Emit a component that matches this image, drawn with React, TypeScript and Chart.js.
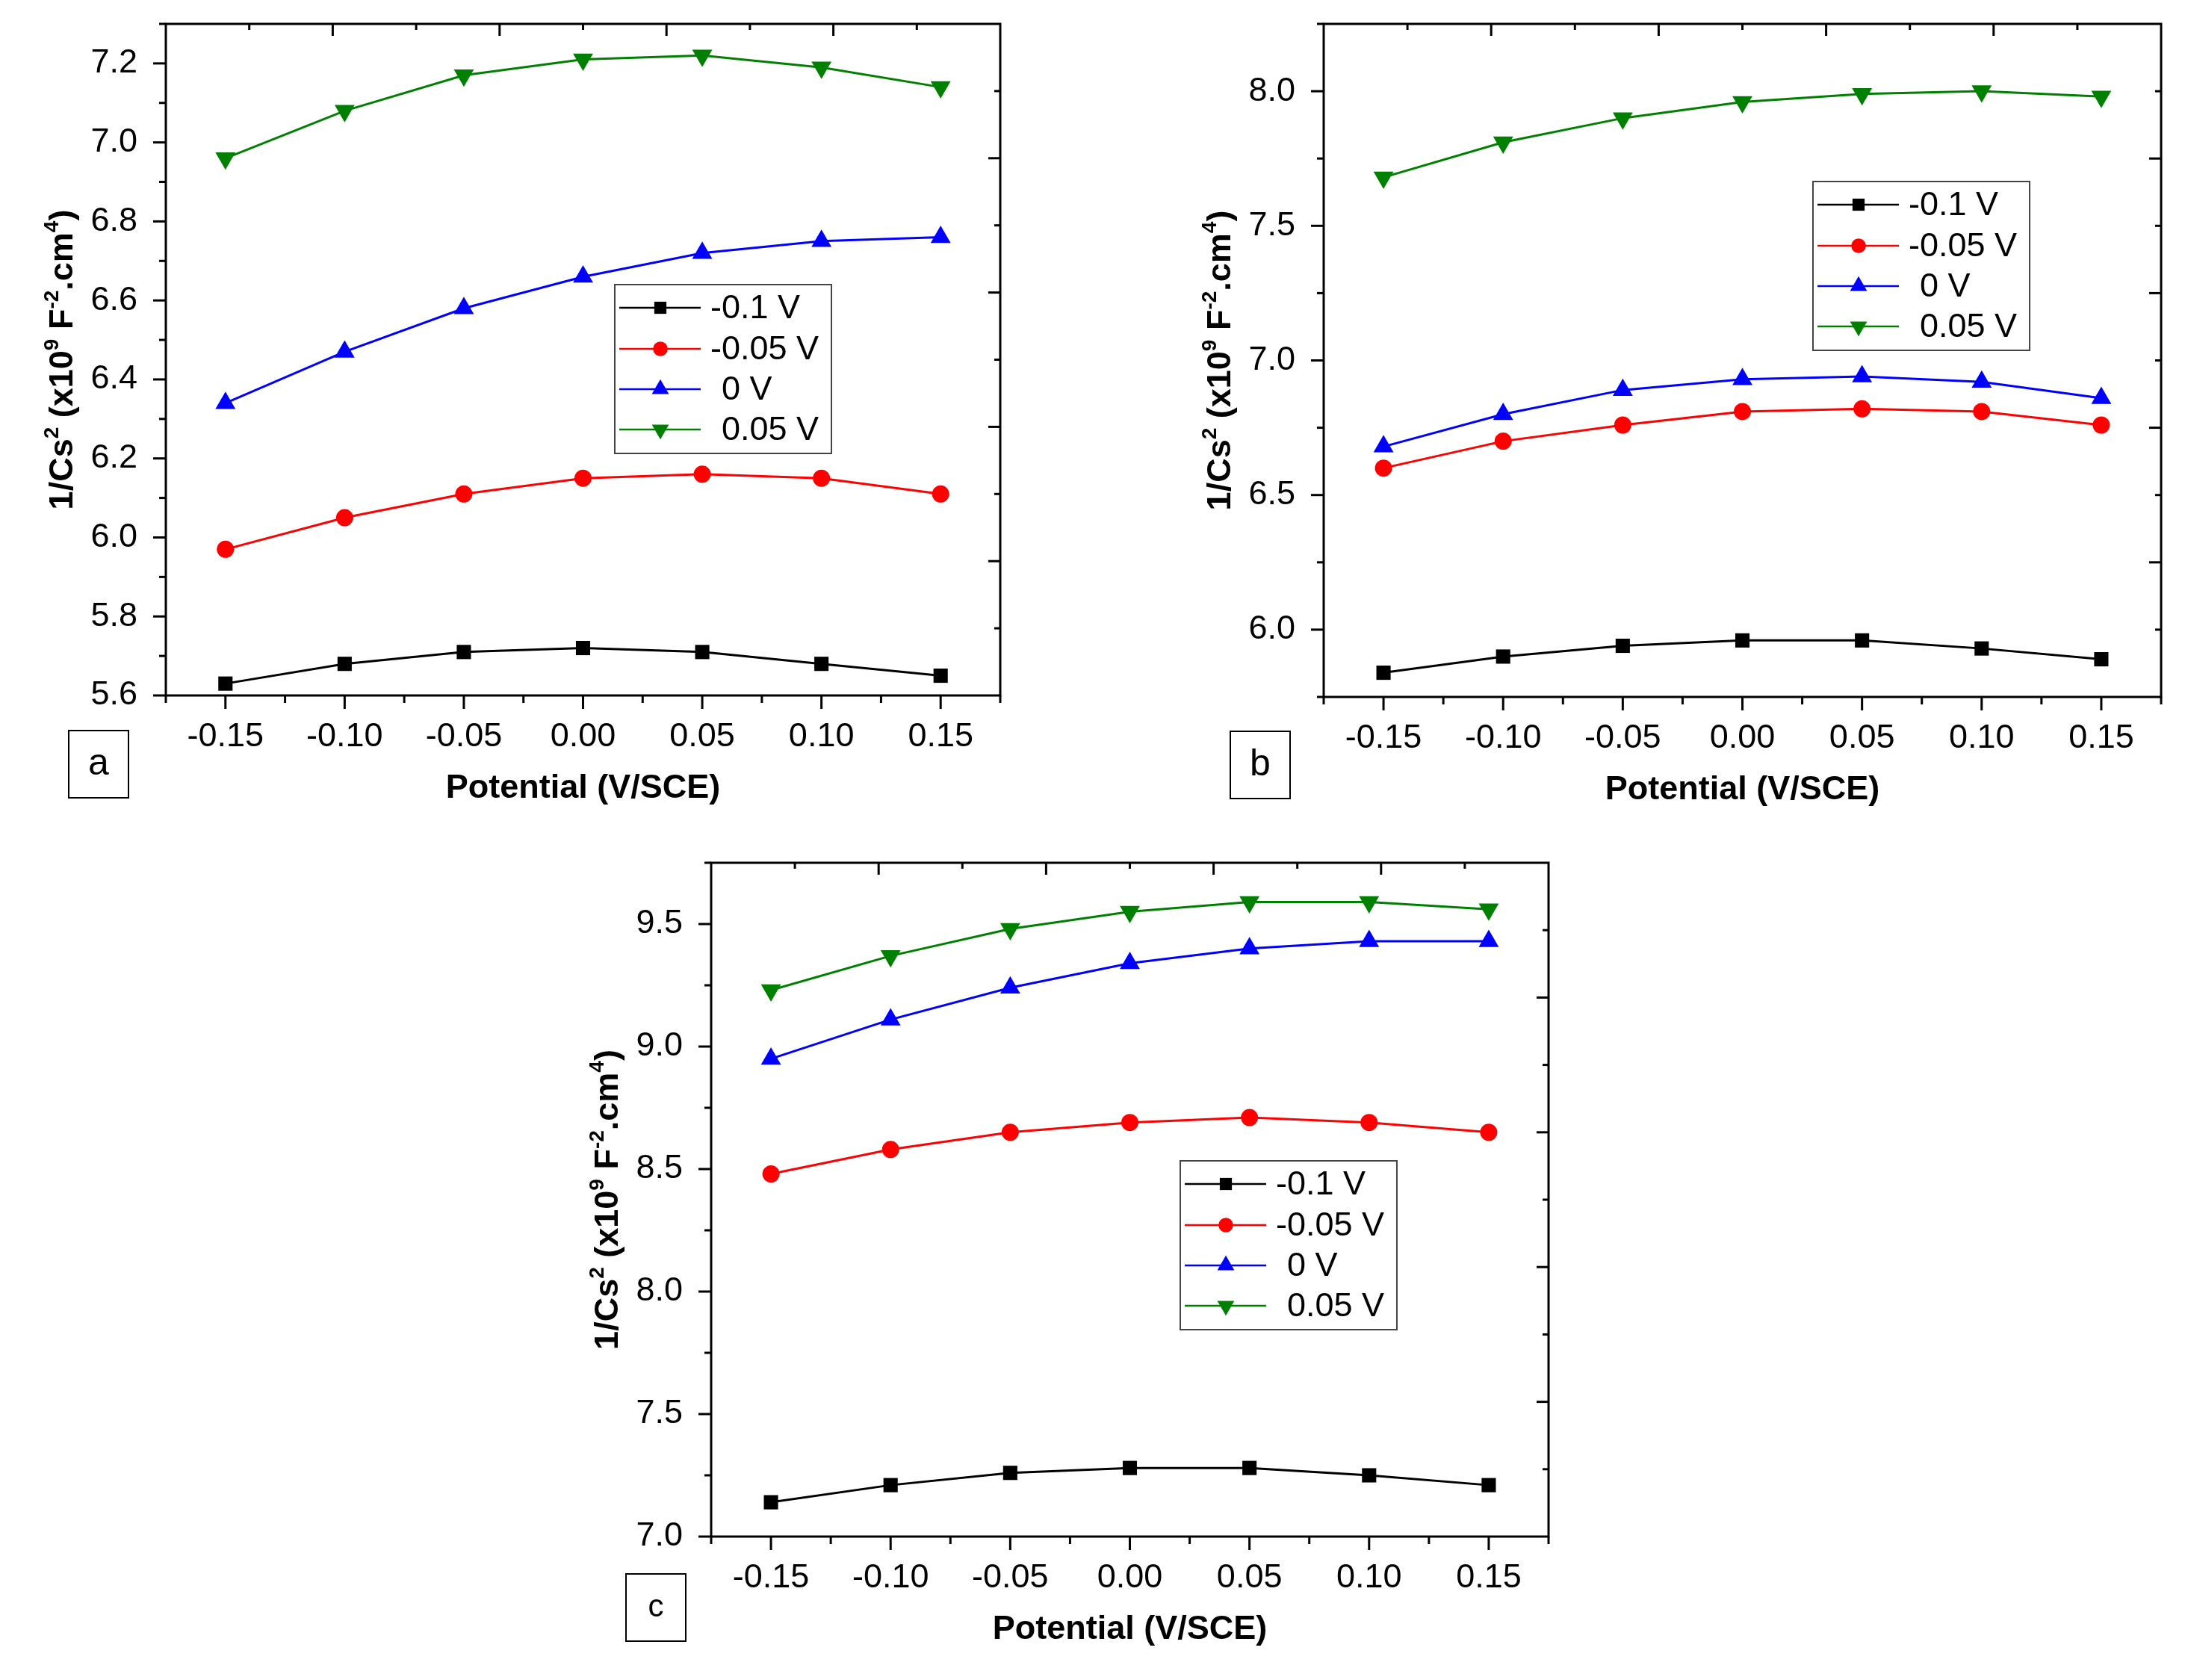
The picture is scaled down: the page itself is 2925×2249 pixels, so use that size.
import React, { useEffect, useRef } from 'react';
import { Chart, registerables } from 'chart.js';

Chart.register(...registerables);

const FONT = '"Liberation Sans", Arial, Helvetica, sans-serif';

// ---------- data ----------
const potentials = [-0.15, -0.1, -0.05, 0.0, 0.05, 0.1, 0.15];
const seriesLabels = ['-0.1 V', '-0.05 V', '0 V', '0.05 V'];

// panel a
const aSeriesM010 = [5.63, 5.68, 5.71, 5.72, 5.71, 5.68, 5.65];
const aSeriesM005 = [5.97, 6.05, 6.11, 6.15, 6.16, 6.15, 6.11];
const aSeries000 = [6.34, 6.47, 6.58, 6.66, 6.72, 6.75, 6.76];
const aSeries005 = [6.96, 7.08, 7.17, 7.21, 7.22, 7.19, 7.14];

// panel b
const bSeriesM010 = [5.84, 5.9, 5.94, 5.96, 5.96, 5.93, 5.89];
const bSeriesM005 = [6.6, 6.7, 6.76, 6.81, 6.82, 6.81, 6.76];
const bSeries000 = [6.68, 6.8, 6.89, 6.93, 6.94, 6.92, 6.86];
const bSeries005 = [7.68, 7.81, 7.9, 7.96, 7.99, 8.0, 7.98];

// panel c
const cSeriesM010 = [7.14, 7.21, 7.26, 7.28, 7.28, 7.25, 7.21];
const cSeriesM005 = [8.48, 8.58, 8.65, 8.69, 8.71, 8.69, 8.65];
const cSeries000 = [8.95, 9.11, 9.24, 9.34, 9.4, 9.43, 9.43];
const cSeries005 = [9.23, 9.37, 9.48, 9.55, 9.59, 9.59, 9.56];

// ticks
const xTickValues = [-0.15, -0.1, -0.05, 0.0, 0.05, 0.1, 0.15];
const xRange = [-0.175, 0.175];
const yTicksA = [5.6, 5.8, 6.0, 6.2, 6.4, 6.6, 6.8, 7.0, 7.2];
const yTicksB = [6.0, 6.5, 7.0, 7.5, 8.0];
const yTicksC = [7.0, 7.5, 8.0, 8.5, 9.0, 9.5];
const yRangeA = [5.6, 7.3];
const yRangeB = [5.75, 8.25];
const yRangeC = [7.0, 9.75];

const xTitle = 'Potential (V/SCE)';
const yTitleParts: [string, boolean][] = [
  ['1/Cs', false],
  ['2', true],
  [' (x10', false],
  ['9', true],
  [' F', false],
  ['-2', true],
  ['.cm', false],
  ['4', true],
  [')', false],
];

// ---------- styles ----------
const seriesColors = ['#000000', '#ff0000', '#0000ff', '#008000'];
const seriesPointStyles = ['rect', 'circle', 'triangle', 'triangle'];
const seriesPointRotation = [0, 0, 0, 180];
const seriesPointRadius = [13.5, 11.5, 15.5, 15.5];

const X_AXIS_H = 150;

type PanelCfg = {
  letter: string;
  letterFont: number;
  series: number[][];
  yTicks: number[];
  yRange: number[];
  canvas: { left: number; top: number; w: number; h: number };
  plot: { left: number; top: number; right: number; bottom: number };
  legend: { dx: number; dy: number };
  letterBox: { dx: number; dy: number };
};

const panels: PanelCfg[] = [
  {
    letter: 'a',
    letterFont: 50,
    series: [aSeriesM010, aSeriesM005, aSeries000, aSeries005],
    yTicks: yTicksA,
    yRange: yRangeA,
    canvas: { left: 0, top: 0, w: 1460, h: 1100 },
    plot: { left: 222, top: 32, right: 1339, bottom: 931 },
    legend: { dx: 601, dy: 349 },
    letterBox: { dx: -130, dy: 47 },
  },
  {
    letter: 'b',
    letterFont: 50,
    series: [bSeriesM010, bSeriesM005, bSeries000, bSeries005],
    yTicks: yTicksB,
    yRange: yRangeB,
    canvas: { left: 1460, top: 0, w: 1465, h: 1100 },
    plot: { left: 312, top: 32, right: 1433, bottom: 933 },
    legend: { dx: 655, dy: 211 },
    letterBox: { dx: -125, dy: 46 },
  },
  {
    letter: 'c',
    letterFont: 42,
    series: [cSeriesM010, cSeriesM005, cSeries000, cSeries005],
    yTicks: yTicksC,
    yRange: yRangeC,
    canvas: { left: 700, top: 1100, w: 1600, h: 1149 },
    plot: { left: 252, top: 55, right: 1373, bottom: 957 },
    legend: { dx: 628, dy: 399 },
    letterBox: { dx: -114, dy: 50 },
  },
];

function drawMarker(ctx: CanvasRenderingContext2D, style: string, rotationDeg: number, r: number, x: number, y: number) {
  ctx.save();
  ctx.translate(x, y);
  ctx.rotate((rotationDeg * Math.PI) / 180);
  ctx.beginPath();
  if (style === 'rect') {
    const s = Math.SQRT1_2 * r;
    ctx.rect(-s, -s, 2 * s, 2 * s);
  } else if (style === 'circle') {
    ctx.arc(0, 0, r, 0, Math.PI * 2);
  } else {
    for (let i = 0; i < 3; i++) {
      const a = (i * 2 * Math.PI) / 3;
      const px = Math.sin(a) * r;
      const py = -Math.cos(a) * r;
      if (i === 0) ctx.moveTo(px, py);
      else ctx.lineTo(px, py);
    }
    ctx.closePath();
  }
  ctx.fill();
  ctx.restore();
}

function minorsOf(majors: number[], min: number, max: number) {
  const step = majors[1] - majors[0];
  const out: number[] = [];
  out.push(majors[0] - step / 2);
  for (let i = 0; i < majors.length - 1; i++) out.push((majors[i] + majors[i + 1]) / 2);
  out.push(majors[majors.length - 1] + step / 2);
  return out.filter((v) => v >= min - 1e-9 && v <= max + 1e-9);
}

function makeDecorPlugin(cfg: PanelCfg) {
  return {
    id: 'decor' + cfg.letter,
    afterDatasetsDraw(chart: any) {
      const ctx: CanvasRenderingContext2D = chart.ctx;
      const ca = chart.chartArea;
      // legend
      const lx = ca.left + cfg.legend.dx;
      const ly = ca.top + cfg.legend.dy;
      const bw = 290;
      const bh = 226;
      ctx.save();
      ctx.fillStyle = '#ffffff';
      ctx.fillRect(lx, ly, bw, bh);
      ctx.strokeStyle = '#444444';
      ctx.lineWidth = 2;
      ctx.strokeRect(lx, ly, bw, bh);
      ctx.font = `45px ${FONT}`;
      const dashW = ctx.measureText('-').width;
      const rowY = [31, 86, 140, 194];
      seriesLabels.forEach((label, i) => {
        const y = ly + rowY[i];
        ctx.strokeStyle = seriesColors[i];
        ctx.lineWidth = 2.5;
        ctx.beginPath();
        ctx.moveTo(lx + 6, y);
        ctx.lineTo(lx + 115, y);
        ctx.stroke();
        ctx.fillStyle = seriesColors[i];
        drawMarker(ctx, seriesPointStyles[i], seriesPointRotation[i], seriesPointRadius[i] * 0.85, lx + 61, y);
        ctx.fillStyle = '#000000';
        ctx.textAlign = 'left';
        ctx.textBaseline = 'middle';
        const off = label.startsWith('-') ? 0 : dashW;
        ctx.fillText(label, lx + 128 + off, y + 2);
      });
      ctx.restore();
    },
    afterDraw(chart: any) {
      const ctx: CanvasRenderingContext2D = chart.ctx;
      const ca = chart.chartArea;
      const xs = chart.scales.x;
      const ys = chart.scales.y;
      ctx.save();
      ctx.strokeStyle = '#000000';
      ctx.lineWidth = 3;
      ctx.lineCap = 'butt';
      ctx.strokeRect(ca.left, ca.top, ca.right - ca.left, ca.bottom - ca.top);
      const line = (x1: number, y1: number, x2: number, y2: number) => {
        ctx.beginPath();
        ctx.moveTo(x1, y1);
        ctx.lineTo(x2, y2);
        ctx.stroke();
      };
      // bottom ticks (outward)
      xTickValues.forEach((v) => {
        const px = xs.getPixelForValue(v);
        line(px, ca.bottom, px, ca.bottom + 18);
      });
      minorsOf(xTickValues, xs.min, xs.max).forEach((v) => {
        const px = xs.getPixelForValue(v);
        line(px, ca.bottom, px, ca.bottom + 10);
      });
      // left ticks (outward)
      cfg.yTicks.forEach((v) => {
        const py = ys.getPixelForValue(v);
        line(ca.left, py, ca.left - 17, py);
      });
      minorsOf(cfg.yTicks, ys.min, ys.max).forEach((v) => {
        const py = ys.getPixelForValue(v);
        line(ca.left, py, ca.left - 9, py);
      });
      // top and right: ten equal divisions, ticks inward
      for (let i = 1; i < 10; i++) {
        const len = i % 2 === 0 ? 16 : 8;
        const vx = xs.min + ((xs.max - xs.min) * i) / 10;
        const px = xs.getPixelForValue(vx);
        line(px, ca.top, px, ca.top + len);
        const vy = ys.min + ((ys.max - ys.min) * i) / 10;
        const py = ys.getPixelForValue(vy);
        line(ca.right, py, ca.right - len, py);
      }
      // x title
      ctx.fillStyle = '#000000';
      ctx.font = `bold 45px ${FONT}`;
      ctx.textAlign = 'center';
      ctx.textBaseline = 'middle';
      ctx.fillText(xTitle, (ca.left + ca.right) / 2, ca.bottom + 125);
      // y title with superscripts
      ctx.save();
      ctx.translate(ca.left - 141, (ca.top + ca.bottom) / 2);
      ctx.rotate(-Math.PI / 2);
      const big = `bold 45px ${FONT}`;
      const small = `bold 28px ${FONT}`;
      let total = 0;
      yTitleParts.forEach(([t, sup]) => {
        ctx.font = sup ? small : big;
        total += ctx.measureText(t).width;
      });
      let x = -total / 2;
      ctx.textAlign = 'left';
      ctx.textBaseline = 'alphabetic';
      const base = 45 * 0.36;
      yTitleParts.forEach(([t, sup]) => {
        ctx.font = sup ? small : big;
        ctx.fillText(t, x, sup ? base - 19 : base);
        x += ctx.measureText(t).width;
      });
      ctx.restore();
      // panel letter box
      const bx = ca.left + cfg.letterBox.dx;
      const by = ca.bottom + cfg.letterBox.dy;
      ctx.strokeStyle = '#000000';
      ctx.lineWidth = 2;
      ctx.strokeRect(bx, by, 80, 90);
      ctx.font = `${cfg.letterFont}px ${FONT}`;
      ctx.textAlign = 'center';
      ctx.textBaseline = 'middle';
      ctx.fillText(cfg.letter, bx + 40, by + 45);
      ctx.restore();
    },
  };
}

function Panel({ cfg }: { cfg: PanelCfg }) {
  const ref = useRef<HTMLCanvasElement>(null);
  useEffect(() => {
    const canvas = ref.current;
    if (!canvas) return;
    const { w, h } = cfg.canvas;
    const p = cfg.plot;
    const yDecimals = 1;
    const chart = new Chart(canvas, {
      type: 'line',
      data: {
        datasets: cfg.series.map((arr, i) => ({
          label: seriesLabels[i],
          data: potentials.map((x, j) => ({ x, y: arr[j] })),
          borderColor: seriesColors[i],
          backgroundColor: seriesColors[i],
          borderWidth: 3,
          pointStyle: seriesPointStyles[i] as any,
          pointRotation: seriesPointRotation[i],
          pointRadius: seriesPointRadius[i],
          pointBorderWidth: 0,
          tension: 0,
          fill: false,
        })),
      },
      options: {
        animation: false,
        responsive: false,
        devicePixelRatio: 1,
        layout: {
          padding: { left: 0, top: p.top, right: w - p.right, bottom: h - p.bottom - X_AXIS_H },
        },
        plugins: { legend: { display: false }, tooltip: { enabled: false } },
        scales: {
          x: {
            type: 'linear',
            min: xRange[0],
            max: xRange[1],
            grid: { display: false },
            border: { display: false },
            afterBuildTicks: (s: any) => {
              s.ticks = xTickValues.map((value) => ({ value }));
            },
            afterFit: (s: any) => {
              s.height = X_AXIS_H;
              s.paddingLeft = 0;
              s.paddingRight = 0;
            },
            ticks: {
              autoSkip: false,
              maxRotation: 0,
              minRotation: 0,
              padding: 21,
              color: '#000000',
              font: { family: FONT, size: 45 },
              callback: (v: any) => Number(v).toFixed(2),
            },
          },
          y: {
            type: 'linear',
            min: cfg.yRange[0],
            max: cfg.yRange[1],
            grid: { display: false },
            border: { display: false },
            afterBuildTicks: (s: any) => {
              s.ticks = cfg.yTicks.map((value) => ({ value }));
            },
            afterFit: (s: any) => {
              s.width = p.left;
              s.paddingTop = 0;
              s.paddingBottom = 0;
            },
            ticks: {
              autoSkip: false,
              padding: 30,
              color: '#000000',
              font: { family: FONT, size: 45 },
              callback: (v: any) => Number(v).toFixed(yDecimals),
            },
          },
        },
      } as any,
      plugins: [makeDecorPlugin(cfg)],
    });
    return () => chart.destroy();
  }, [cfg]);
  const { left, top, w, h } = cfg.canvas;
  return (
    <canvas
      ref={ref}
      width={w}
      height={h}
      style={{ position: 'absolute', left, top, width: w, height: h }}
    />
  );
}

export default function App() {
  return (
    <div
      style={{
        position: 'absolute',
        left: 0,
        top: 0,
        width: 2925,
        height: 2249,
        background: '#ffffff',
        overflow: 'hidden',
      }}
    >
      {panels.map((cfg) => (
        <Panel key={cfg.letter} cfg={cfg} />
      ))}
    </div>
  );
}
